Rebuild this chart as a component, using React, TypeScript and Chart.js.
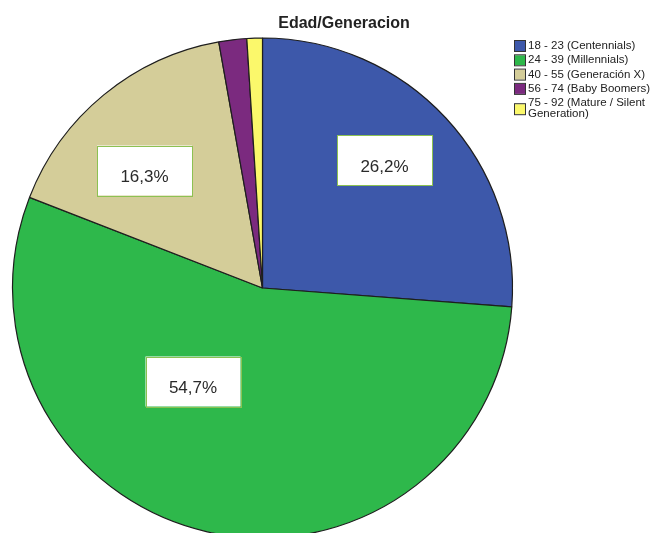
import React, { useEffect, useRef } from "react";
import { Chart, registerables } from "chart.js";

Chart.register(...registerables);

// Age groups and their share of respondents (%)
const categories: string[] = [
  "18 - 23 (Centennials)",
  "24 - 39 (Millennials)",
  "40 - 55 (Generación X)",
  "56 - 74 (Baby Boomers)",
  "75 - 92 (Mature / Silent Generation)",
];
const shares: number[] = [26.2, 54.7, 16.3, 1.8, 1.0];
const legendLines: string[][] = [
  ["18 - 23 (Centennials)"],
  ["24 - 39 (Millennials)"],
  ["40 - 55 (Generación X)"],
  ["56 - 74 (Baby Boomers)"],
  ["75 - 92 (Mature / Silent", "Generation)"],
];
const sliceColors: string[] = ["#3d58aa", "#2eb84b", "#d4cd99", "#7b2a7f", "#fbf86b"];
// Slices that carry a value box, with the box centre given relative to the pie centre (in radii)
const labelledSlices: number[] = [0, 2, 1];
const labelOffsets: [number, number][] = [
  [0.488, -0.512],
  [-0.472, -0.47],
  [-0.278, 0.374],
];

const FONT = "Arial, 'Liberation Sans', Helvetica, sans-serif";

const fmt = (v: number) => v.toFixed(1).replace(".", ",") + "%";

const decorations = {
  id: "decorations",
  afterDatasetsDraw(chart: any) {
    const ctx: CanvasRenderingContext2D = chart.ctx;
    const meta = chart.getDatasetMeta(0);
    const arc0 = meta.data[0];
    const { x: cx, y: cy, outerRadius } = arc0.getProps(["x", "y", "outerRadius"], true);
    ctx.save();

    // value boxes
    labelledSlices.forEach((idx, k) => {
      const [ox, oy] = labelOffsets[k];
      const bx = cx + ox * outerRadius;
      const by = cy + oy * outerRadius;
      const w = 95;
      const h = 50;
      ctx.fillStyle = "#ffffff";
      ctx.fillRect(bx - w / 2, by - h / 2, w, h);
      ctx.strokeStyle = "#8cc152";
      ctx.lineWidth = 1;
      ctx.strokeRect(Math.round(bx - w / 2) + 0.5, Math.round(by - h / 2) + 0.5, w, h);
      ctx.fillStyle = "#2a2a2a";
      ctx.font = `17px ${FONT}`;
      ctx.textAlign = "center";
      ctx.textBaseline = "middle";
      ctx.fillText(fmt(chart.data.datasets[0].data[idx]), bx, by + 7);
    });

    // title
    ctx.fillStyle = "#222222";
    ctx.font = `bold 16px ${FONT}`;
    ctx.textAlign = "center";
    ctx.textBaseline = "middle";
    ctx.fillText("Edad/Generacion", 344, 24);

    // legend
    let y = 46;
    ctx.font = `11.5px ${FONT}`;
    ctx.textAlign = "left";
    legendLines.forEach((lines, i) => {
      const boxTop = lines.length > 1 ? y + 1 : y - 5;
      ctx.fillStyle = sliceColors[i];
      ctx.fillRect(515, boxTop, 10, 10);
      ctx.strokeStyle = "#333333";
      ctx.lineWidth = 1;
      ctx.strokeRect(514.5, boxTop - 0.5, 11, 11);
      ctx.fillStyle = "#222222";
      lines.forEach((ln, j) => {
        ctx.fillText(ln, 528, y + j * 10.5);
      });
      y += lines.length > 1 ? 14.5 : 14.3;
    });
    ctx.restore();
  },
};

export default function App() {
  const canvasRef = useRef<HTMLCanvasElement | null>(null);

  useEffect(() => {
    const canvas = canvasRef.current;
    if (!canvas) return;
    const chart = new Chart(canvas, {
      type: "pie",
      data: {
        labels: categories,
        datasets: [
          {
            data: shares,
            backgroundColor: sliceColors,
            borderColor: "#1e1e1e",
            borderWidth: 1.2,
          },
        ],
      },
      options: {
        responsive: false,
        animation: false,
        events: [],
        radius: 250,
        clip: false,
        layout: { padding: { left: 0, right: 132, top: 43, bottom: 0 } },
        plugins: {
          legend: { display: false },
          title: { display: false },
          tooltip: { enabled: false },
        },
      } as any,
      plugins: [decorations],
    });
    return () => chart.destroy();
  }, []);

  return (
    <div style={{ position: "absolute", left: 0, top: 0, width: 657, height: 533, background: "#ffffff", overflow: "hidden" }}>
      <canvas ref={canvasRef} width={657} height={533} style={{ display: "block" }} />
    </div>
  );
}
